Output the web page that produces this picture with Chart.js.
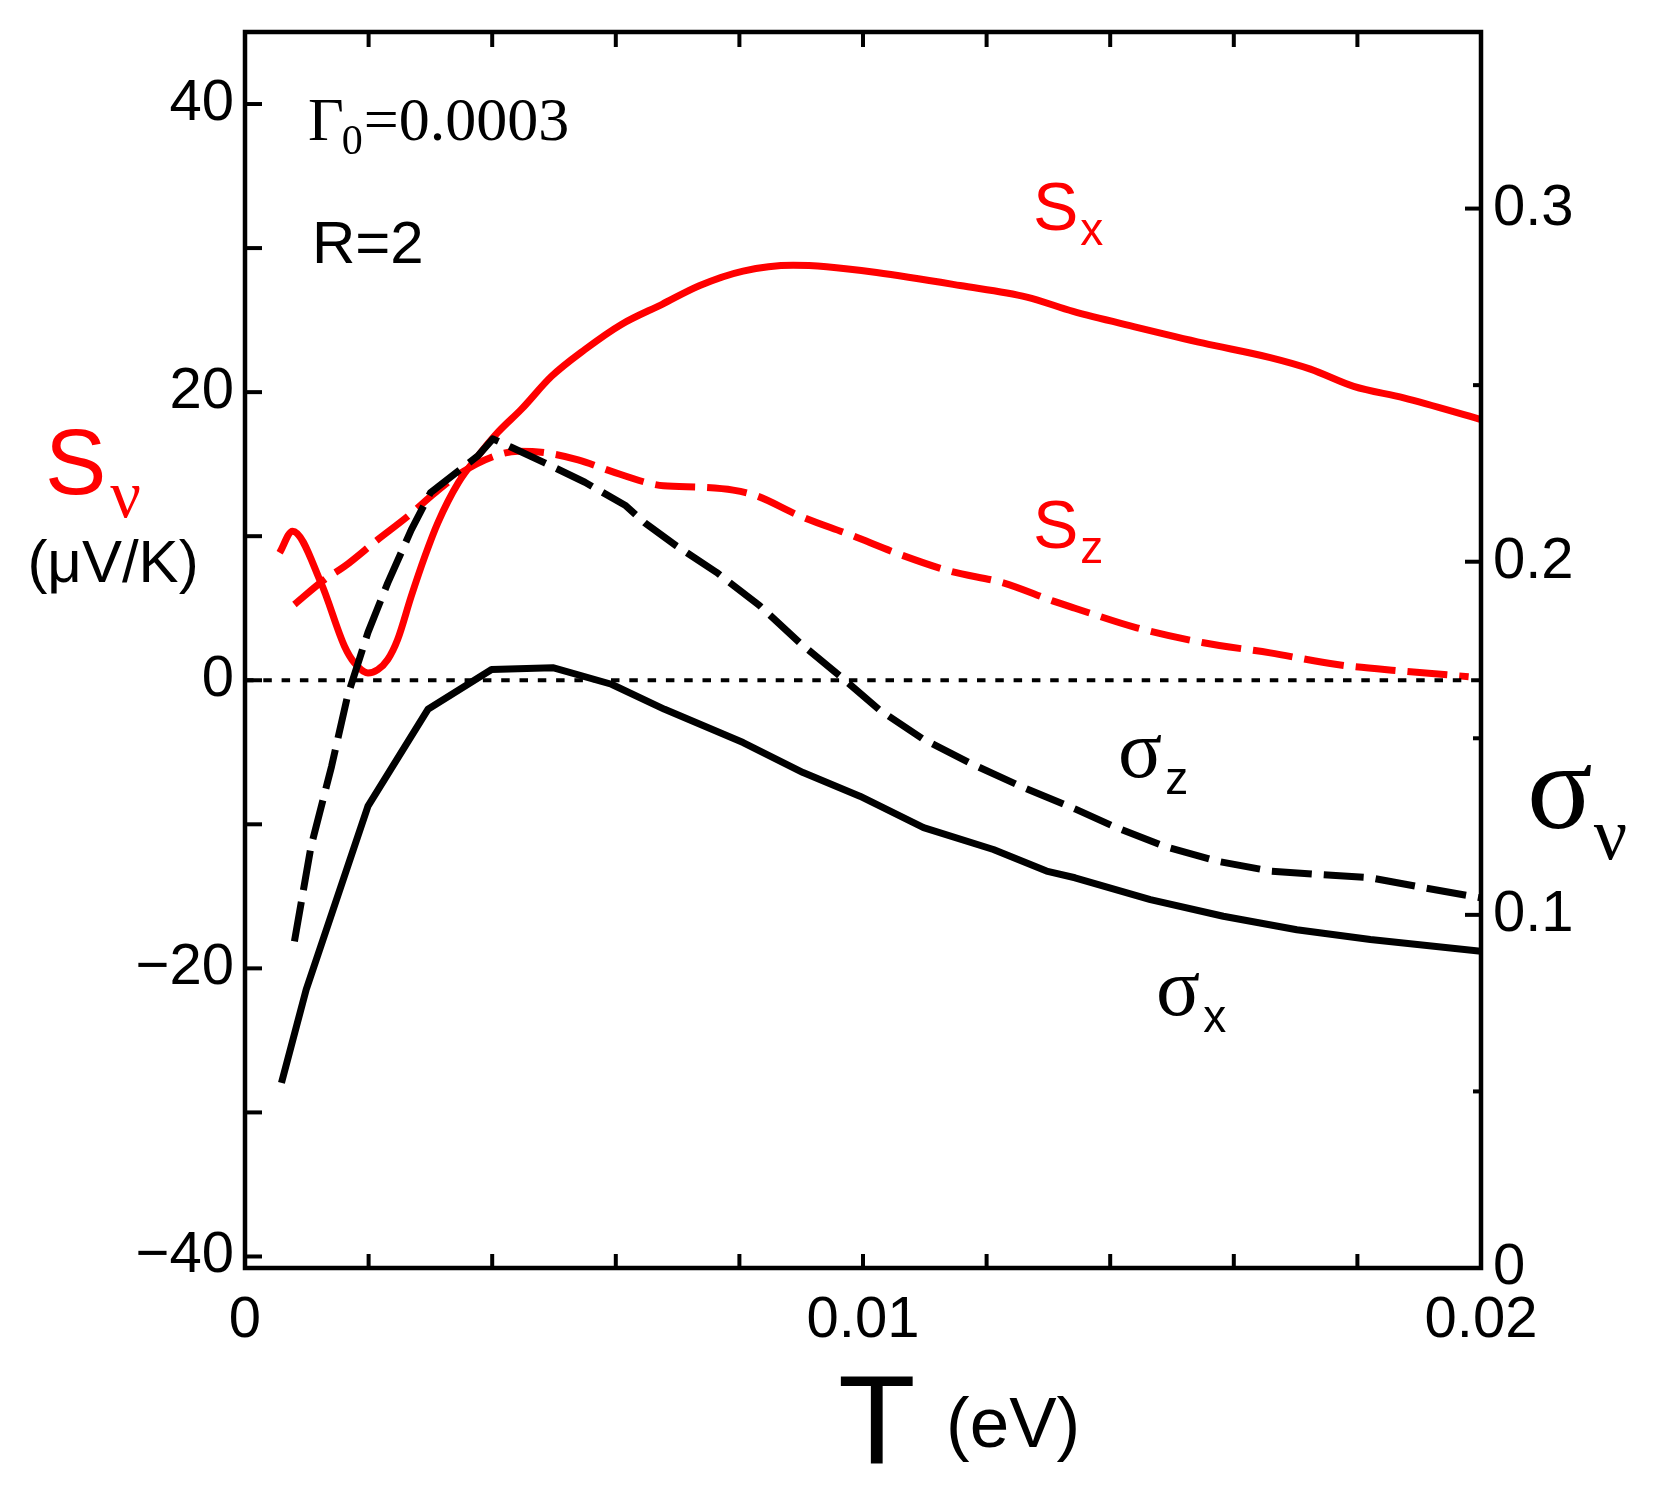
<!DOCTYPE html>
<html>
<head>
<meta charset="utf-8">
<script src="https://cdn.jsdelivr.net/npm/chart.js@4.4.1/dist/chart.umd.min.js"></script>
<style>
  html, body { margin: 0; padding: 0; background: #fff; }
  #wrap { width: 1653px; height: 1489px; }
</style>
</head>
<body>
<div id="wrap"><canvas id="c" width="1653" height="1489"></canvas></div>
<script>
// ---------- data ----------
// S_x (µV/K), red solid, left axis
const T_Sx = [0.00056,0.00077,0.00123,0.00161,0.00177,0.00199,0.00215,0.00231,0.00247,0.00269,0.00291,0.00312,0.00345,0.00377,0.00409,0.00447,0.00496,0.0055,0.00609,0.00675,0.00736,0.00806,0.00887,0.00941,0.01022,0.01157,0.01265,0.0134,0.01443,0.01551,0.01659,0.01724,0.01794,0.01875,0.02];
const Sx   = [8.85,10.35,6.76,2.36,1.21,0.51,0.74,1.44,2.83,5.83,8.6,10.93,13.7,15.56,17.2,18.8,21.1,22.96,24.7,26.1,27.4,28.4,28.8,28.7,28.3,27.4,26.6,25.6,24.5,23.4,22.4,21.6,20.4,19.6,18.1];
// S_z (µV/K), red dashed, left axis
const T_Sz = [0.0008,0.00129,0.00161,0.00215,0.00264,0.00307,0.0035,0.00404,0.00442,0.00485,0.00539,0.00593,0.00652,0.00677,0.00741,0.0079,0.00828,0.00898,0.00979,0.0106,0.01141,0.01227,0.01308,0.01343,0.01443,0.01551,0.01659,0.01767,0.01875,0.0198];
const Sz   = [5.26,7.0,7.9,9.77,11.4,13.0,14.4,15.56,15.9,15.8,15.3,14.5,13.7,13.5,13.4,13.2,12.8,11.4,10.1,8.73,7.57,6.76,5.49,5.0,3.64,2.6,1.9,1.09,0.63,0.25];
// sigma_z, black dashed, right axis
const T_sz = [0.0008,0.00107,0.0014,0.00166,0.00199,0.00231,0.00269,0.003,0.00377,0.00401,0.00431,0.00485,0.0055,0.00615,0.00647,0.00698,0.00763,0.00833,0.00898,0.00963,0.01027,0.01098,0.01173,0.01254,0.01343,0.01405,0.01486,0.01573,0.01659,0.0174,0.01821,0.01907,0.02];
const sigz = [0.0925,0.1195,0.142,0.162,0.180,0.194,0.209,0.2195,0.230,0.2348,0.2324,0.228,0.2225,0.216,0.211,0.2045,0.197,0.1875,0.177,0.1676,0.158,0.1497,0.143,0.1365,0.130,0.1251,0.1195,0.1152,0.1124,0.1114,0.1105,0.1077,0.1048];
// sigma_x, black solid, right axis
const T_sx = [0.00059,0.00099,0.00199,0.00296,0.00399,0.00498,0.00593,0.00679,0.00806,0.00903,0.00995,0.01098,0.01211,0.01297,0.01343,0.01465,0.01583,0.01702,0.01821,0.02];
const sigx = [0.0524,0.0788,0.1308,0.1582,0.1695,0.170,0.1653,0.1582,0.1488,0.1403,0.1336,0.1247,0.1185,0.1124,0.1105,0.1043,0.0996,0.0958,0.093,0.0897];
// zero reference line
const T_zero = [0, 0.02];
const S_zero = [0, 0];

// axis ranges / tick values / labelled ticks
const X_MIN = 0, X_MAX = 0.02;
const X_TICKS = [0, 0.002, 0.004, 0.006, 0.008, 0.01, 0.012, 0.014, 0.016, 0.018, 0.02];
const X_LABELS = [0, 0.01, 0.02];
const YL_MIN = -40.8, YL_MAX = 45;
const YL_TICKS = [-40, -30, -20, -10, 0, 10, 20, 30, 40];
const YL_LABELS = [-40, -20, 0, 20, 40];
const YR_MIN = 0, YR_MAX = 0.35;
const YR_TICKS = [0, 0.05, 0.1, 0.15, 0.2, 0.25, 0.3];
const YR_LABELS = [0, 0.1, 0.2, 0.3];

const pts = (xs, ys) => xs.map((x, i) => ({ x: x, y: ys[i] }));
const near = (v, list, tol) => list.some(l => Math.abs(v - l) < tol);

const RED = '#ff0000';
const SANS = '"Liberation Sans", Arial, Helvetica, sans-serif';
const SERIF = '"Liberation Serif", "Times New Roman", serif';

const frameAndText = {
  id: 'frameAndText',
  afterDraw(chart) {
    const { ctx, chartArea: a, scales } = chart;
    ctx.save();
    ctx.strokeStyle = '#000';
    ctx.lineCap = 'butt';
    // frame
    ctx.lineWidth = 4.5;
    ctx.strokeRect(a.left, a.top, a.right - a.left, a.bottom - a.top);
    ctx.lineWidth = 4;
    const seg = (x1, y1, x2, y2) => { ctx.beginPath(); ctx.moveTo(x1, y1); ctx.lineTo(x2, y2); ctx.stroke(); };
    // x ticks (bottom and top, inward)
    scales.x.ticks.forEach(t => {
      const px = scales.x.getPixelForValue(t.value);
      seg(px, a.bottom, px, a.bottom - 14);
      seg(px, a.top, px, a.top + 15);
    });
    // left ticks
    scales.yS.ticks.forEach(t => {
      const py = scales.yS.getPixelForValue(t.value);
      seg(a.left, py, a.left + 17, py);
    });
    // right ticks
    scales.yR.ticks.forEach(t => {
      const py = scales.yR.getPixelForValue(t.value);
      const major = near(t.value, YR_LABELS, 1e-6);
      seg(a.right, py, a.right - (major ? 16 : 8), py);
    });

    ctx.textAlign = 'left';
    ctx.textBaseline = 'alphabetic';
    const txt = (s, x, y, font, color) => { ctx.font = font; ctx.fillStyle = color; ctx.fillText(s, x, y); return x + ctx.measureText(s).width; };

    // annotations inside plot
    let x = txt('Γ', 308, 140, '62px ' + SERIF, '#000');
    x = txt('0', x - 2, 154, '42px ' + SERIF, '#000');
    txt('=0.0003', x + 1, 140, '62px ' + SERIF, '#000');
    txt('R=2', 312, 263, '60px ' + SANS, '#000');

    // curve labels
    x = txt('S', 1033, 230, '68px ' + SANS, RED);
    txt('x', x + 2, 245, '46px ' + SANS, RED);
    x = txt('S', 1033, 548, '68px ' + SANS, RED);
    txt('z', x + 2, 563, '46px ' + SANS, RED);
    x = txt('σ', 1118, 777, '82px ' + SERIF, '#000');
    txt('z', x + 3, 794, '46px ' + SANS, '#000');
    x = txt('σ', 1156, 1015, '82px ' + SERIF, '#000');
    txt('x', x + 3, 1032, '46px ' + SANS, '#000');

    // left axis title
    x = txt('S', 45, 494, '92px ' + SANS, RED);
    txt('ν', x + 4, 517, '68px ' + SERIF, RED);
    ctx.textAlign = 'center';
    txt('(μV/K)', 113, 582, '60px ' + SANS, '#000');
    ctx.textAlign = 'left';

    // right axis title
    x = txt('σ', 1527, 828, '122px ' + SERIF, '#000');
    txt('ν', x + 1, 859, '74px ' + SERIF, '#000');

    // x axis title
    txt('T', 838, 1463, '127px ' + SANS, '#000');
    txt('(eV)', 946, 1447, '71px ' + SANS, '#000');
    ctx.restore();
  }
};

const tickFont = { family: SANS, size: 58 };
const setTicks = list => s => { s.ticks = list.map(v => ({ value: v })); };

new Chart(document.getElementById('c'), {
  type: 'line',
  data: {
    datasets: [
      { label: 'zero', data: pts(T_zero, S_zero), yAxisID: 'yS', borderColor: '#000', borderWidth: 4, borderDash: [8.5, 9.8], pointRadius: 0, tension: 0 },
      { label: 'sigma_x', data: pts(T_sx, sigx), yAxisID: 'yR', borderColor: '#000', borderWidth: 7, pointRadius: 0, tension: 0 },
      { label: 'sigma_z', data: pts(T_sz, sigz), yAxisID: 'yR', borderColor: '#000', borderWidth: 7, borderDash: [40, 12], pointRadius: 0, tension: 0 },
      { label: 'S_x', data: pts(T_Sx, Sx), yAxisID: 'yS', borderColor: RED, borderWidth: 7, pointRadius: 0, cubicInterpolationMode: 'monotone' },
      { label: 'S_z', data: pts(T_Sz, Sz), yAxisID: 'yS', borderColor: RED, borderWidth: 7, borderDash: [40, 12], pointRadius: 0, cubicInterpolationMode: 'monotone' }
    ]
  },
  options: {
    responsive: false,
    animation: false,
    devicePixelRatio: 1,
    layout: { padding: { top: 32, left: 0, right: 0, bottom: 0 } },
    plugins: { legend: { display: false }, tooltip: { enabled: false } },
    elements: { line: { borderCapStyle: 'butt', borderJoinStyle: 'round', fill: false } },
    scales: {
      x: {
        type: 'linear', position: 'bottom', min: X_MIN, max: X_MAX,
        grid: { display: false, drawTicks: false },
        border: { display: false },
        afterBuildTicks: setTicks(X_TICKS),
        ticks: {
          autoSkip: false, maxRotation: 0, color: '#000', font: tickFont, padding: 18,
          callback: v => near(v, X_LABELS, 1e-7) ? String(X_LABELS.find(l => Math.abs(l - v) < 1e-7)) : ''
        },
        afterFit: s => { s.height = 221; s.paddingLeft = 0; s.paddingRight = 0; }
      },
      yS: {
        type: 'linear', position: 'left', min: YL_MIN, max: YL_MAX,
        grid: { display: false, drawTicks: false },
        border: { display: false },
        afterBuildTicks: setTicks(YL_TICKS),
        ticks: {
          autoSkip: false, color: '#000', font: tickFont, padding: 11,
          callback: v => near(v, YL_LABELS, 1e-6) ? (v < 0 ? '\u2212' + Math.abs(Math.round(v)) : String(Math.round(v))) : ''
        },
        afterFit: s => { s.width = 245; s.paddingTop = 0; s.paddingBottom = 0; }
      },
      yR: {
        type: 'linear', position: 'right', min: YR_MIN, max: YR_MAX,
        grid: { display: false, drawTicks: false },
        border: { display: false },
        afterBuildTicks: setTicks(YR_TICKS),
        ticks: {
          autoSkip: false, color: '#000', font: tickFont, padding: 12,
          callback: v => near(v, YR_LABELS, 1e-6) ? String(YR_LABELS.find(l => Math.abs(l - v) < 1e-6)) : ''
        },
        afterFit: s => { s.width = 172; s.paddingTop = 0; s.paddingBottom = 0; }
      }
    }
  },
  plugins: [frameAndText]
});
</script>
</body>
</html>
